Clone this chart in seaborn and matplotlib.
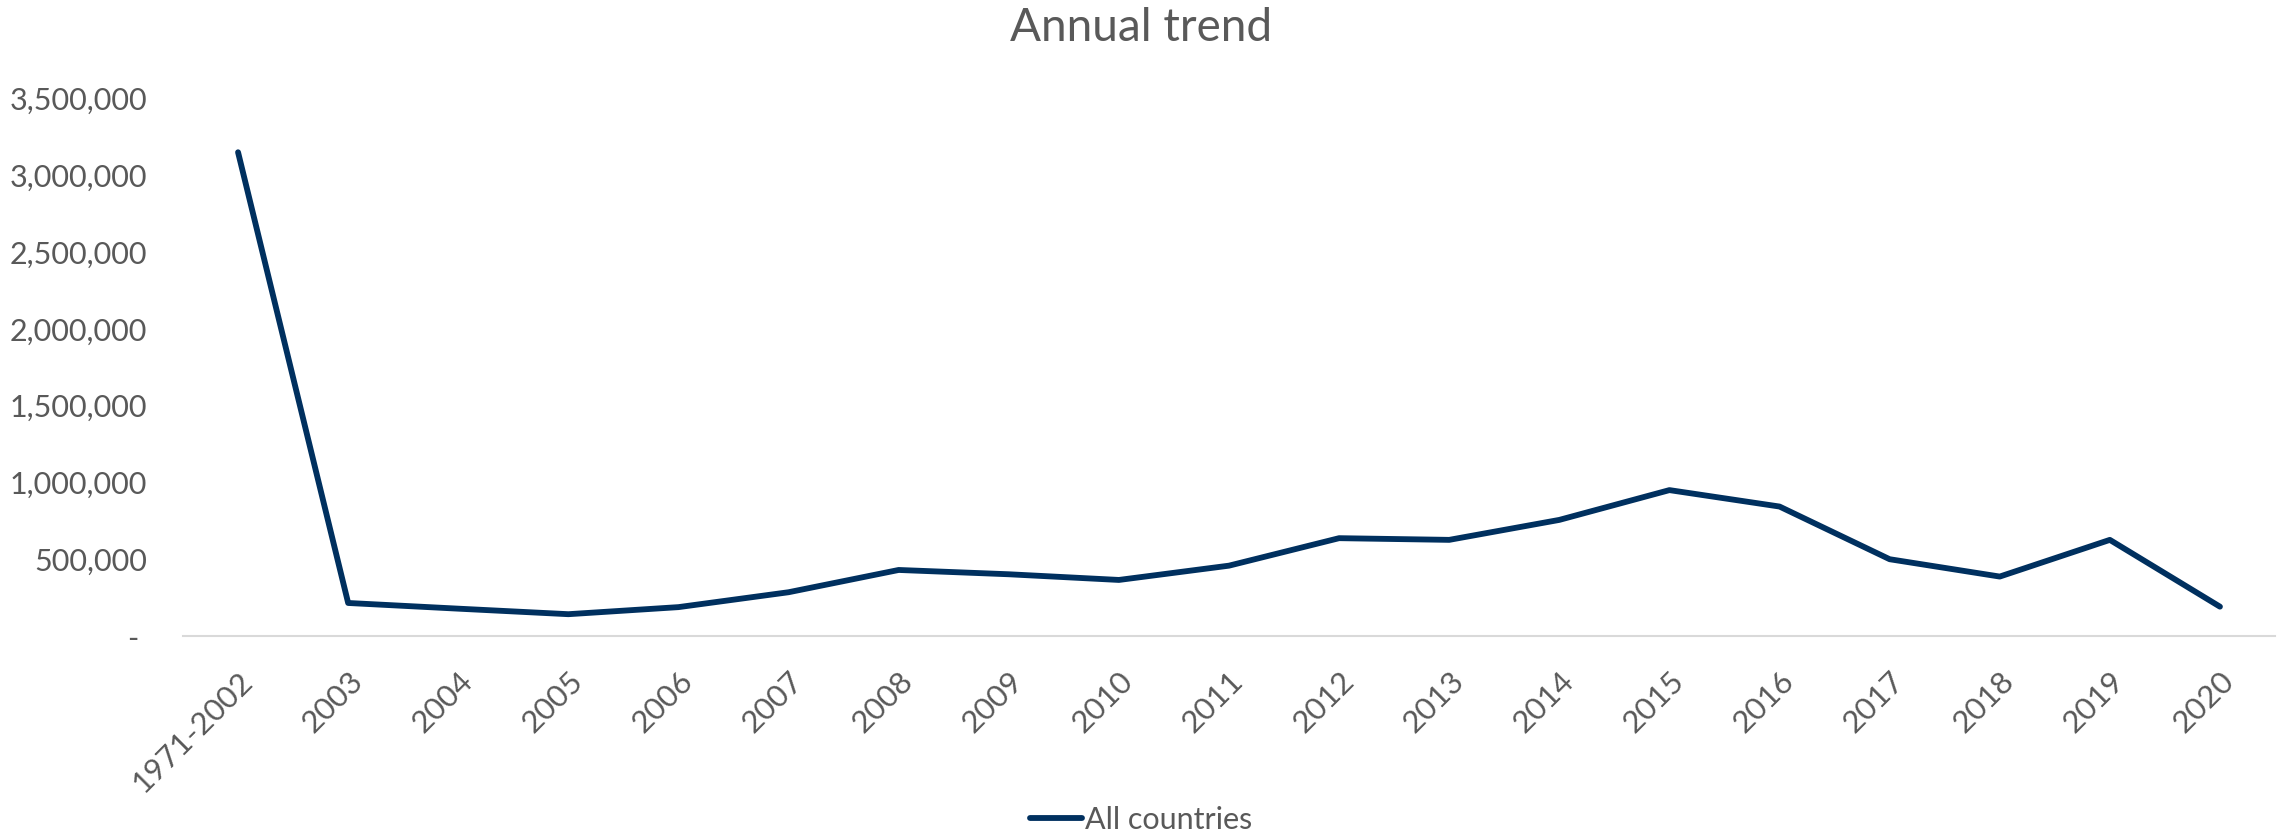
import matplotlib
matplotlib.use("Agg")
import matplotlib.pyplot as plt
import matplotlib.ticker as mticker
import pandas as pd
import seaborn as sns

# Annual totals, all countries combined
periods = ["1971-2002", "2003", "2004", "2005", "2006", "2007", "2008", "2009",
           "2010", "2011", "2012", "2013", "2014", "2015", "2016", "2017",
           "2018", "2019", "2020"]
totals = [3150000, 215000, 178000, 142000, 188000, 285000, 430000, 402000,
          365000, 458000, 637000, 626000, 756000, 950000, 843000, 500000,
          387000, 626000, 191000]
series_name = "All countries"
y_ticks = [0, 500000, 1000000, 1500000, 2000000, 2500000, 3000000, 3500000]

LINE = "#00305F"
TEXT = "#595959"
AXIS = "#D9D9D9"

sns.set_theme(style="white")
plt.rcParams["font.family"] = ["Lato", "DejaVu Sans"]

df = pd.DataFrame({"period": periods, "total": totals,
                   "series": [series_name] * len(periods)})

W, H = 2283, 835
fig = plt.figure(figsize=(W / 100, H / 100), dpi=100)
fig.patch.set_facecolor("white")
left, right, top, bottom = 183, 2275, 98.5, 636
ax = fig.add_axes([left / W, 1 - bottom / H, (right - left) / W, (bottom - top) / H])

sns.lineplot(data=df, x="period", y="total", hue="series", palette=[LINE],
             sort=False, linewidth=4.2, ax=ax, legend=True)
for ln in ax.lines:
    ln.set_solid_capstyle("round")
    ln.set_solid_joinstyle("round")

ax.set_xlim(-0.5, len(periods) - 0.5)
ax.set_ylim(0, 3500000)
ax.set_yticks(y_ticks)
# zero shown as a dash, accounting style
ax.yaxis.set_major_formatter(
    mticker.FuncFormatter(lambda v, _: f"{v:,.0f}" if v else "- "))
ax.set_xlabel("")
ax.set_ylabel("")

for side in ("left", "right", "top"):
    ax.spines[side].set_visible(False)
ax.spines["bottom"].set_color(AXIS)
ax.spines["bottom"].set_linewidth(1.5)
ax.grid(False)

ax.tick_params(axis="y", length=0, pad=26, labelsize=22, labelcolor=TEXT)
ax.tick_params(axis="x", length=0, pad=22, labelsize=22.5, labelcolor=TEXT)
for lab in ax.get_xticklabels():
    lab.set_rotation(45)
    lab.set_ha("right")
    lab.set_va("top")
    lab.set_rotation_mode("anchor")

handles, labels = ax.get_legend_handles_labels()
ax.get_legend().remove()
fig.legend(handles, labels, loc="center", bbox_to_anchor=(0.5, 1 - 820 / H),
           frameon=False, fontsize=22, labelcolor=TEXT, handlelength=1.7,
           handletextpad=0.1)

fig.text(0.5, 1 - 28 / H, "Annual trend", ha="center", va="center",
         fontsize=33, color=TEXT)

fig.savefig("out.png", dpi=100, facecolor="white")
